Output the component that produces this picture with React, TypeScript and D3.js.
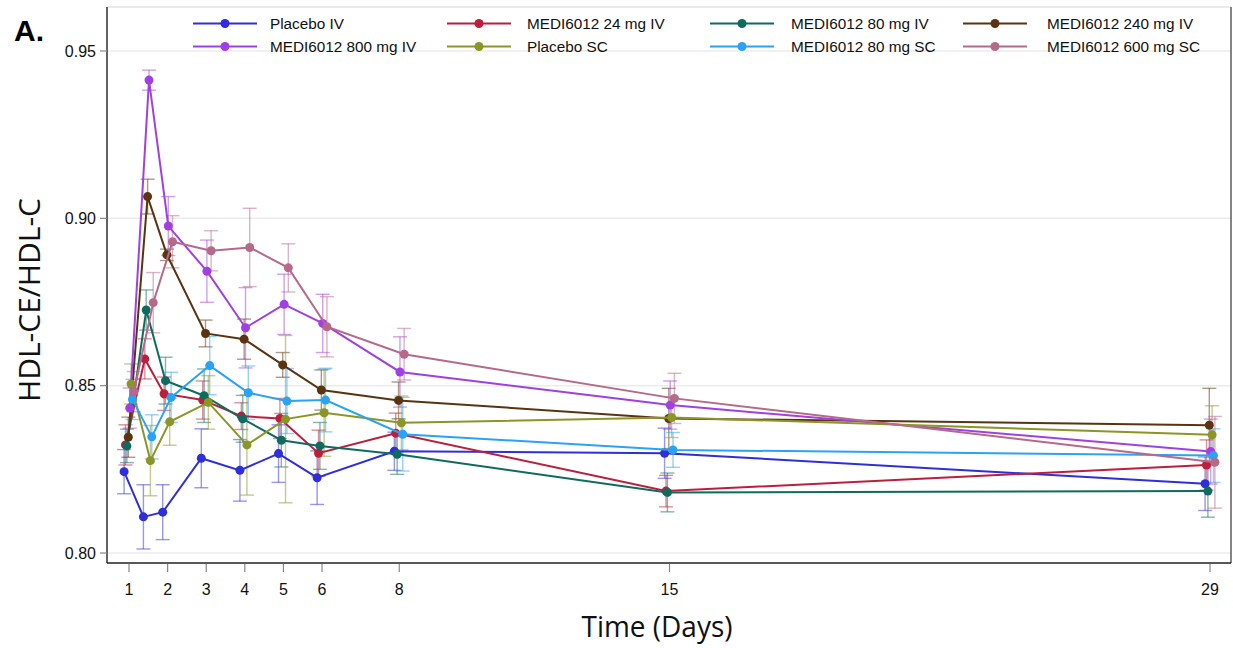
import React from 'react';
import * as d3 from 'd3';

// ---- data ----
const times = [1, 1.5, 2, 3, 4, 5, 6, 8, 15, 29];
const xTickValues = [1, 2, 3, 4, 5, 6, 8, 15, 29];
const yTickValues = [0.8, 0.85, 0.9, 0.95];

const seriesNames = [
  'Placebo IV',
  'MEDI6012 24 mg IV',
  'MEDI6012 80 mg IV',
  'MEDI6012 240 mg IV',
  'MEDI6012 800 mg IV',
  'Placebo SC',
  'MEDI6012 80 mg SC',
  'MEDI6012 600 mg SC',
];

const seriesColors = ['#2f2fd8', '#bb1f3c', '#0e6b5e', '#5a3410', '#a140e0', '#8a9626', '#2aa3f5', '#b56a8a'];

const placeboIV = [0.8243, 0.8108, 0.8122, 0.8283, 0.8247, 0.8297, 0.8225, 0.8304, 0.8298, 0.8207];
const placeboIVErr = [0.0066, 0.0096, 0.0082, 0.0088, 0.0092, 0.0086, 0.008, 0.0057, 0.0075, 0.008];

const mg24IV = [0.8323, 0.858, 0.8476, 0.8457, 0.8409, 0.8402, 0.8298, 0.8358, 0.8185, 0.8263];
const mg24IVErr = [0.006, 0.006, 0.005, 0.0057, 0.004, 0.006, 0.0069, 0.006, 0.0047, 0.0075];

const mg80IV = [0.832, 0.8726, 0.8515, 0.847, 0.8401, 0.8337, 0.832, 0.8295, 0.8181, 0.8185];
const mg80IVErr = [0.005, 0.006, 0.007, 0.008, 0.007, 0.008, 0.007, 0.006, 0.0058, 0.0078];

const mg240IV = [0.8346, 0.9065, 0.8891, 0.8656, 0.8639, 0.8562, 0.8487, 0.8456, 0.8402, 0.8382];
const mg240IVErr = [0.006, 0.0052, 0.0017, 0.004, 0.006, 0.0037, 0.006, 0.0055, 0.009, 0.011];

const mg800IV = [0.8433, 0.9413, 0.8977, 0.8842, 0.8673, 0.8743, 0.8686, 0.8541, 0.8442, 0.8303];
const mg800IVErr = [0.006, 0.003, 0.0088, 0.0093, 0.012, 0.009, 0.0087, 0.0105, 0.0072, 0.0097];

const placeboSC = [0.8505, 0.8276, 0.8392, 0.845, 0.8323, 0.84, 0.8419, 0.8389, 0.8405, 0.8353];
const placeboSCErr = [0.006, 0.0105, 0.007, 0.008, 0.015, 0.025, 0.013, 0.008, 0.006, 0.0087];

const mg80SC = [0.8459, 0.8347, 0.8465, 0.856, 0.8479, 0.8454, 0.8457, 0.8355, 0.8308, 0.8291];
const mg80SCErr = [0.006, 0.0066, 0.0075, 0.0087, 0.008, 0.0097, 0.0095, 0.011, 0.0052, 0.008];

const mg600SC = [0.8482, 0.8748, 0.893, 0.8903, 0.8913, 0.8852, 0.8676, 0.8594, 0.8462, 0.8271];
const mg600SCErr = [0.006, 0.009, 0.0078, 0.006, 0.0117, 0.0072, 0.009, 0.0077, 0.0075, 0.0137];

const seriesValues = [placeboIV, mg24IV, mg80IV, mg240IV, mg800IV, placeboSC, mg80SC, mg600SC];
const seriesErrors = [placeboIVErr, mg24IVErr, mg80IVErr, mg240IVErr, mg800IVErr, placeboSCErr, mg80SCErr, mg600SCErr];

export default function App() {
  const W = 1233;
  const H = 648;
  const plotLeft = 107;
  const plotRight = 1231;
  const plotTop = 7;
  const plotBottom = 563;

  const x = d3.scaleLinear().domain([1, 29]).range([129, 1210]);
  const y = d3.scaleLinear().domain([0.8, 0.95]).range([553, 51]);
  const fmt = d3.format('.2f');

  const dodge = (i: number) => (i - 3.5) * 1.4;

  const series = seriesNames.map((name, i) => ({
    name,
    color: seriesColors[i],
    pts: times.map((t, j) => ({
      px: x(t) + dodge(i),
      v: seriesValues[i][j],
      e: seriesErrors[i][j],
    })),
  }));

  const line = d3
    .line<{ px: number; v: number }>()
    .x((d) => d.px)
    .y((d) => y(d.v));

  const legendLineX = [193, 447, 710, 963];
  const legendTextX = [270, 527, 791, 1047];
  const legendRowY = [23.5, 46.5];

  const capHalf = 7;

  return (
    <svg
      width={W}
      height={H}
      style={{ position: 'absolute', left: 0, top: 0, background: '#fff' }}
      fontFamily="'Liberation Sans', Arial, sans-serif"
    >
      <rect x={0} y={0} width={W} height={H} fill="#fff" />
      {/* gridlines */}
      {yTickValues.map((v) => (
        <line key={'g' + v} x1={plotLeft} x2={plotRight} y1={y(v)} y2={y(v)} stroke="#ececec" strokeWidth={1.5} />
      ))}

      {/* frame */}
      <line x1={plotLeft} x2={plotRight} y1={plotTop} y2={plotTop} stroke="#d6d6d6" strokeWidth={1.2} />
      <line x1={plotRight} x2={plotRight} y1={plotTop} y2={plotBottom} stroke="#333" strokeWidth={1.2} />
      <line x1={plotLeft} x2={plotLeft} y1={plotTop} y2={plotBottom} stroke="#222" strokeWidth={1.4} />
      <line x1={plotLeft} x2={plotRight} y1={plotBottom} y2={plotBottom} stroke="#222" strokeWidth={1.4} />

      {/* y ticks */}
      {yTickValues.map((v) => (
        <g key={'yt' + v}>
          <line x1={plotLeft - 7} x2={plotLeft} y1={y(v)} y2={y(v)} stroke="#888" strokeWidth={1.2} />
          <text x={plotLeft - 11} y={y(v)} dy="0.35em" textAnchor="end" fontSize={16} fill="#111">
            {fmt(v)}
          </text>
        </g>
      ))}

      {/* x ticks */}
      {xTickValues.map((t) => (
        <g key={'xt' + t}>
          <line x1={x(t)} x2={x(t)} y1={plotBottom + 1} y2={plotBottom + 9} stroke="#888" strokeWidth={1.2} />
          <text x={x(t)} y={595} textAnchor="middle" fontSize={16} fill="#111">
            {t}
          </text>
        </g>
      ))}

      {/* error bars */}
      {series.map((s, i) => (
        <g key={'eb' + i} stroke={s.color} strokeOpacity={0.5} strokeWidth={1.4} fill="none">
          {s.pts.map((p, j) => (
            <g key={j}>
              <line x1={p.px} x2={p.px} y1={y(p.v - p.e)} y2={y(p.v + p.e)} />
              <line x1={p.px - capHalf} x2={p.px + capHalf} y1={y(p.v - p.e)} y2={y(p.v - p.e)} />
              <line x1={p.px - capHalf} x2={p.px + capHalf} y1={y(p.v + p.e)} y2={y(p.v + p.e)} />
            </g>
          ))}
        </g>
      ))}

      {/* lines and markers */}
      {series.map((s, i) => (
        <g key={'s' + i}>
          <path d={line(s.pts) || ''} fill="none" stroke={s.color} strokeWidth={2} />
          {s.pts.map((p, j) => (
            <circle key={j} cx={p.px} cy={y(p.v)} r={4.5} fill={s.color} />
          ))}
        </g>
      ))}

      {/* legend */}
      {series.map((s, i) => {
        const col = i % 4;
        const row = Math.floor(i / 4);
        const ly = legendRowY[row];
        const lx = legendLineX[col];
        return (
          <g key={'lg' + i}>
            <line x1={lx} x2={lx + 64} y1={ly} y2={ly} stroke={s.color} strokeWidth={2} />
            <circle cx={lx + 32} cy={ly} r={4.5} fill={s.color} />
            <text x={legendTextX[col]} y={ly} dy="0.35em" fontSize={15.3} fill="#111">
              {s.name}
            </text>
          </g>
        );
      })}

      {/* panel label */}
      <text x={14} y={41} fontSize={30} fontWeight="bold" fill="#000">
        A.
      </text>

      {/* axis titles */}
      <text
        x={657}
        y={637}
        textAnchor="middle"
        fontSize={29}
        fontFamily="'Open Sans', sans-serif"
        fill="#111"
        textLength={151}
        lengthAdjust="spacingAndGlyphs"
      >
        Time (Days)
      </text>
      <text
        transform={`translate(40,300) rotate(-90)`}
        textAnchor="middle"
        fontSize={30}
        fontFamily="'Open Sans', sans-serif"
        fill="#111"
        textLength={204}
        lengthAdjust="spacingAndGlyphs"
      >
        HDL-CE/HDL-C
      </text>
    </svg>
  );
}
